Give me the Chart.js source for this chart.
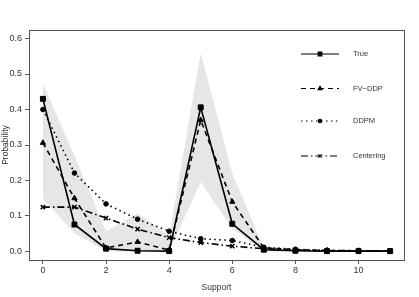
<!DOCTYPE html>
<html>
<head>
<meta charset="utf-8">
<script src="https://cdn.jsdelivr.net/npm/chart.js@4.4.0/dist/chart.umd.min.js"></script>
<style>
  html, body { margin: 0; padding: 0; background: #fff; }
  #wrap { width: 419px; height: 297px; }
</style>
</head>
<body>
<div id="wrap"><canvas id="chart" width="419" height="297"></canvas></div>
<script>
// values
const support = [0, 1, 2, 3, 4, 5, 6, 7, 8, 9, 10, 11];
const trueVals = [0.430, 0.076, 0.008, 0.002, 0.001, 0.406, 0.078, 0.005, 0.002, 0.001, 0.001, 0.001];
const fvDdp = [0.306, 0.150, 0.010, 0.027, 0.004, 0.370, 0.140, 0.010, 0.005, 0.003, 0.002, 0.001];
const ddpm = [0.400, 0.221, 0.134, 0.091, 0.057, 0.036, 0.031, 0.012, 0.006, 0.003, 0.002, 0.001];
const centering = [0.125, 0.125, 0.094, 0.063, 0.039, 0.025, 0.015, 0.008, 0.004, 0.002, 0.001, 0.001];
const bandUpper = [0.473, 0.270, 0.056, 0.108, 0.045, 0.559, 0.220, 0.010, 0.005, 0.003, 0.002, 0.001];
const bandLower = [0.148, 0.052, 0.000, 0.000, 0.000, 0.196, 0.065, 0.000, 0.000, 0.000, 0.000, 0.000];
const xTicks = [0, 2, 4, 6, 8, 10];
const yTicks = [0, 0.1, 0.2, 0.3, 0.4, 0.5, 0.6];

const FONT = "'Liberation Sans', Arial, sans-serif";
const AXIS = "#555";
const TEXT = "#333";

const pts = vals => support.map((x, i) => ({ x: x, y: vals[i] }));

const series = [
  { label: "True", data: trueVals, dash: [], style: "rect", radius: 3.5, width: 1.6 },
  { label: "FV\u2212DDP", data: fvDdp, dash: [5, 4], style: "triangle", radius: 3, width: 1.6 },
  { label: "DDPM", data: ddpm, dash: [1.5, 3.5], style: "circle", radius: 2.3, width: 1.6 },
  { label: "Centering", data: centering, dash: [7, 3, 1.5, 3], style: "crossRot", radius: 3, width: 1.6 }
];

const datasets = [
  { label: "upper", data: pts(bandUpper), borderWidth: 0, pointRadius: 0,
    backgroundColor: "#e6e6e6", fill: "+1", order: 10, tension: 0 },
  { label: "lower", data: pts(bandLower), borderWidth: 0, pointRadius: 0,
    backgroundColor: "#e6e6e6", fill: false, order: 11, tension: 0 }
];
series.forEach(s => {
  datasets.push({
    label: s.label,
    data: pts(s.data),
    borderColor: "#000",
    backgroundColor: "#000",
    borderWidth: s.width,
    borderDash: s.dash,
    pointStyle: s.style,
    pointRadius: s.radius,
    pointBorderWidth: s.style === "crossRot" ? 1.6 : 1,
    fill: false,
    order: 1,
    tension: 0
  });
});

// box around the plot area plus the hand-laid legend
const boxAndLegend = {
  id: "boxAndLegend",
  afterDraw(chart) {
    const ctx = chart.ctx;
    const a = chart.chartArea;
    ctx.save();
    ctx.strokeStyle = AXIS;
    ctx.lineWidth = 1;
    ctx.strokeRect(Math.round(a.left) + 0.5, Math.round(a.top) + 0.5,
      Math.round(a.right - a.left), Math.round(a.bottom - a.top));

    const rows = [54, 88.5, 121, 156];
    series.forEach((s, i) => {
      const y = rows[i];
      ctx.strokeStyle = "#000";
      ctx.lineWidth = 1.1;
      ctx.setLineDash(s.dash);
      ctx.beginPath();
      ctx.moveTo(301, y);
      ctx.lineTo(339, y);
      ctx.stroke();
      ctx.setLineDash([]);
      Chart.helpers.drawPoint(ctx, {
        pointStyle: s.style, radius: s.radius * 0.75, rotation: 0, borderWidth: 1.2
      }, 320, y);
      ctx.fillStyle = "#000";
      ctx.fill();
      ctx.fillStyle = TEXT;
      ctx.font = "7.5px " + FONT;
      ctx.textAlign = "left";
      ctx.textBaseline = "middle";
      ctx.fillText(s.label, 353, y);
    });
    ctx.restore();
  }
};

new Chart(document.getElementById("chart"), {
  type: "line",
  data: { datasets: datasets },
  plugins: [boxAndLegend],
  options: {
    responsive: false,
    animation: false,
    layout: { padding: { left: 0, right: 15, top: 30, bottom: 0 } },
    plugins: { legend: { display: false }, tooltip: { enabled: false } },
    scales: {
      x: {
        type: "linear",
        min: -0.44,
        max: 11.44,
        afterBuildTicks: s => { s.ticks = xTicks.map(v => ({ value: v })); },
        afterFit: s => { s.height = 37; },
        grid: { drawOnChartArea: false, drawTicks: true, tickLength: 4, color: AXIS },
        border: { display: false },
        ticks: { color: TEXT, font: { family: FONT, size: 9 }, padding: 1, maxRotation: 0 },
        title: { display: true, text: "Support", color: TEXT, font: { family: FONT, size: 8.5 },
          padding: { top: 0, bottom: 4 } }
      },
      y: {
        min: -0.024,
        max: 0.624,
        afterBuildTicks: s => { s.ticks = yTicks.map(v => ({ value: v })); },
        afterFit: s => { s.width = 29; },
        grid: { drawOnChartArea: false, drawTicks: true, tickLength: 4, color: AXIS },
        border: { display: false },
        ticks: { color: TEXT, font: { family: FONT, size: 9 }, padding: 3,
          callback: v => v.toFixed(1) },
        title: { display: true, text: "Probability", color: TEXT, font: { family: FONT, size: 8.5 },
          padding: { top: 1, bottom: 0 } }
      }
    }
  }
});
</script>
</body>
</html>
